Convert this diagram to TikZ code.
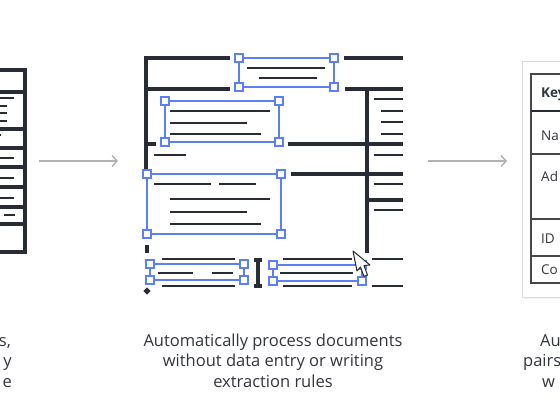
\documentclass[tikz,border=0pt]{standalone}
\usepackage{fontspec}
\setmainfont{Open Sans}
\usetikzlibrary{arrows.meta}

\definecolor{ink}{RGB}{40,44,52}
\definecolor{selblue}{RGB}{92,128,242}
\definecolor{arrowgray}{RGB}{178,178,178}
\definecolor{captext}{RGB}{50,53,60}

\begin{document}
\begin{tikzpicture}[
  x=1pt, y=-1pt,
  font=\fontsize{16.5}{20.5}\selectfont,
  >={Straight Barb[length=5pt,width=11pt]},
  ink/.style={line width=3.3pt, draw=ink},
  txt/.style={line width=2.9pt, draw=ink},
  sel/.style={line width=2.6pt, draw=selblue},
  handle/.style={draw=selblue, fill=white, line width=2pt,
                 minimum size=8.5pt, inner sep=0pt},
  flow/.style={->, line width=1.4pt, arrowgray},
  captxt/.style={text=captext, inner sep=0pt, anchor=base},
  cell/.style={text=captext, inner sep=0pt, anchor=base west,
               font=\fontsize{13.5}{16}\selectfont},
]
\useasboundingbox (0,0) rectangle (560,420);
\clip (0,0) rectangle (560,420);
\fill[white] (0,0) rectangle (560,420);

% --- Left document (cut off by the frame) ---
\draw[ink] (-5,70) -- (25,70) -- (25,252) -- (-5,252);
\foreach \y in {92,129,148,167,187,207,224}
  \draw[ink] (-5,\y) -- (25,\y);
\foreach \y/\l in {98/14,106/7,113/7,121/7,135/1,158/14,178/14,198/14}
  \draw[txt] (-5,\y) -- (\l,\y);
\draw[txt] (4,215) -- (15,215);

% --- Flow arrows ---
\coordinate (doc-out) at (39,161);
\coordinate (proc-in) at (118,161);
\coordinate (proc-out) at (428,161);
\coordinate (tab-in) at (507,161);
\draw[flow] (doc-out) -- (proc-in);
\draw[flow] (proc-out) -- (tab-in);

% --- Center document: frame lines ---
\draw[ink] (230,58) -- (146,58) -- (146,170);
\draw[ink] (146,89) -- (230,89);
\draw[ink] (344,58) -- (403,58);
\draw[ink] (345,89) -- (403,89);
\draw[ink] (367,89) -- (367,253);
\draw[ink] (288,144) -- (403,144);
\draw[ink] (291,174) -- (403,174);
\draw[ink] (367,200) -- (403,200);
\draw[ink] (146,144) -- (156,144);
\draw[txt] (154,155) -- (186,155);
\draw[ink] (147,245) -- (147,253);
\fill[ink] (147,291) circle (1.3);

% right column of short rules
\foreach \y in {99,155,184,210}
  \draw[txt] (374,\y) -- (403,\y);
\foreach \y in {111,122,134}
  \draw[txt] (381,\y) -- (403,\y);
\foreach \y in {259,286}
  \draw[txt] (372,\y) -- (403,\y);

% --- Text lines inside the selections ---
\draw[txt] (247,68) -- (325,68);
\draw[txt] (259,78) -- (317,78);
\draw[txt] (170,111) -- (270,111);
\draw[txt] (170,123) -- (247,123);
\draw[txt] (170,134) -- (261,134);
\draw[txt] (154,184) -- (211,184);
\draw[txt] (219,184) -- (256,184);
\draw[txt] (170,199) -- (270,199);
\draw[txt] (170,212) -- (247,212);
\draw[txt] (170,224) -- (261,224);
\draw[txt] (162,259) -- (235,259);
\draw[txt] (158,273) -- (193,273);
\draw[txt] (212,273) -- (233,273);
\draw[txt] (162,286) -- (235,286);
\draw[txt] (283,259) -- (352,259);
\draw[txt] (280,273) -- (353,273);
\draw[txt] (283,286) -- (352,286);

% --- Selection boxes with corner handles ---
\foreach \n/\xa/\ya/\xb/\yb in {top/239/58/334/87, mid/165/101/279/142,
    big/147/174/281/234, lowl/150/264/244/280, lowr/273/265/362/281} {
  \draw[sel] (\xa,\ya) rectangle (\xb,\yb);
  \node[handle] (\n-nw) at (\xa,\ya) {};
  \node[handle] (\n-ne) at (\xb,\ya) {};
  \node[handle] (\n-sw) at (\xa,\yb) {};
  \node[handle] (\n-se) at (\xb,\yb) {};
}

% --- Text cursor and mouse pointer ---
\draw[line width=2.6pt, ink] (258,260) -- (258,286)
  (254,260) -- (262,260) (254,286) -- (262,286);
\filldraw[fill=white, draw=ink, line width=1pt, line join=round]
  (353,251) -- (357,271) -- (360.5,267) -- (364,276.5) -- (367.5,275)
  -- (364,265.5) -- (370,265) -- cycle;

% --- Right result card (cut off) ---
\fill[black!5] (523.5,63.5) rectangle (580,299);
\filldraw[fill=white, draw=black!14, line width=1pt] (522,62) rectangle (580,297);
\draw[black!72, line width=1.2pt] (580,74) -- (531,74) -- (531,283) -- (580,283);
\foreach \y in {154,219,256}
  \draw[black!72, line width=1.2pt] (531,\y) -- (580,\y);
\draw[ink, line width=2.8pt] (531,111) -- (580,111);
\node[cell, font=\fontsize{13.5}{16}\bfseries] (k-head) at (541,98) {Key};
\node[cell] (k-name) at (541,140) {Na};
\node[cell] (k-addr) at (541,181) {Ad};
\node[cell] (k-id)   at (541,243) {ID};
\node[cell] (k-co)   at (541,274) {Co};

% --- Captions ---
\node[captxt, anchor=base east] (l1) at (11,346) {s,};
\node[captxt, anchor=base east] (l2) at (12,366.5) {y};
\node[captxt, anchor=base east] (l3) at (12,387) {e};
\node[captxt] (c1) at (273,346) {Automatically process documents};
\node[captxt] (c2) at (273,366.5) {without data entry or writing};
\node[captxt] (c3) at (273,387) {extraction rules};
\node[captxt, anchor=base west] (r1) at (540,346) {Au};
\node[captxt, anchor=base west] (r2) at (523,366.5) {pairs};
\node[captxt, anchor=base west] (r3) at (542,387) {w};

\end{tikzpicture}
\end{document}
